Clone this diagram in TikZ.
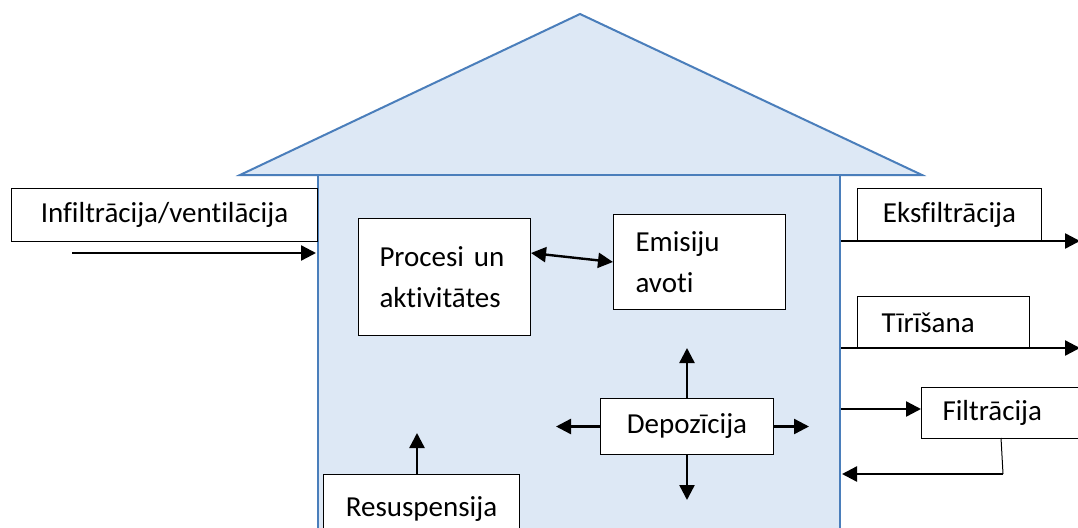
\documentclass[tikz,border=0pt]{standalone}
\usepackage{fontspec}
\setmainfont{Carlito}[Ligatures={NoCommon}]
\usetikzlibrary{arrows.meta}
\definecolor{housefill}{HTML}{DDE8F5}
\definecolor{houseline}{HTML}{4A7EBB}
\begin{document}
\begin{tikzpicture}[x=1pt,y=-1pt,
  box/.style={draw=black,line width=1pt,fill=white,inner sep=0pt,font=\fontsize{29}{41}\selectfont},
  lbox/.style={box,align=left},
  conn/.style={line width=2.4pt,-{Triangle[length=15pt,width=15pt]}},
  dconn/.style={line width=2.4pt,{Triangle[length=15pt,width=15pt]}-{Triangle[length=15pt,width=15pt]}}]
\useasboundingbox (0,0) rectangle (1078,527);
\clip (0,0) rectangle (1078,527);
\fill[white] (0,0) rectangle (1078,527);
% house
\draw[houseline,fill=housefill,line width=2pt] (240,175) -- (580,14) -- (922,175) -- cycle;
\draw[houseline,fill=housefill,line width=2pt] (318,175) rectangle (840,560);
% boxes
\node[box,minimum width=306pt,minimum height=53pt,anchor=north west] (infil) at (11,188) {Infiltrācija/ventilācija};
\node[lbox,minimum height=117pt,text width=130pt,inner xsep=21pt,anchor=north west] (proc) at (358,218) {Procesi un\\aktivitātes};
\node[lbox,minimum height=95pt,text width=128pt,inner xsep=22pt,anchor=north west] (emis) at (613,214) {Emisiju\\avoti};
\node[box,minimum width=173pt,minimum height=56pt,anchor=north west] (depo) at (600,398) {Depozīcija};
\node[box,minimum width=196pt,minimum height=70pt,anchor=north west] (resus) at (323,474) {Resuspensija};
\node[box,minimum width=184pt,minimum height=52pt,anchor=north west] (eks) at (857,188) {Eksfiltrācija};
\node[lbox,minimum height=52pt,text width=124pt,inner xsep=24pt,anchor=north west] (tiri) at (857,296) {Tīrīšana};
\node[lbox,minimum height=51pt,text width=150pt,inner xsep=21pt,anchor=north west] (filt) at (921,387) {Filtrācija};
% coordinates
\coordinate (infS) at (72,253);
\coordinate (infE) at (316,253);
\coordinate (eksS) at (841,241);
\coordinate (eksE) at (1080,241);
\coordinate (tirS) at (841,348);
\coordinate (tirE) at (1080,348);
\coordinate (filS) at (841,409);
\coordinate (filB) at (1001,438);
\coordinate (filC) at (1003,474);
\coordinate (filE) at (842,474);
\coordinate (depU) at (685,348);
\coordinate (depD) at (685,500);
\coordinate (depL) at (556,427);
\coordinate (depR) at (809,427);
\coordinate (resU) at (417,433);
% connectors
\draw[conn] (infS) -- (infE);
\draw[dconn] (proc.east |- 0,253) -- (emis.west |- 0,262);
\draw[conn] (depo.north) -- (depo.north |- depU);
\draw[conn] (depo.south) -- (depo.south |- depD);
\draw[conn] (depo.west) -- (depo.west -| depL);
\draw[conn] (depo.east) -- (depo.east -| depR);
\draw[conn] (resus.north -| resU) -- (resU);
\draw[conn] (eksS) -- (eksE);
\draw[conn] (tirS) -- (tirE);
\draw[conn] (filS) -- (filt.west |- filS);
\draw[line width=1pt] (filB) -- (filC);
\draw[conn] (filC) -- (filE);
\end{tikzpicture}
\end{document}
